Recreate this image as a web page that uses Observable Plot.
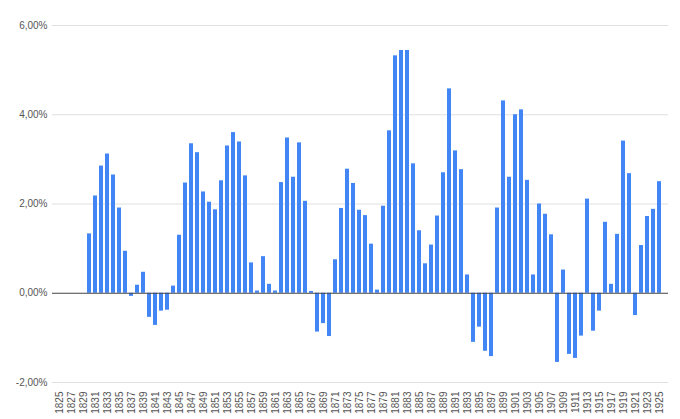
<!DOCTYPE html>
<html><head><meta charset="utf-8">
<script src="https://cdn.jsdelivr.net/npm/d3@7"></script>
<script src="https://cdn.jsdelivr.net/npm/@observablehq/plot@0.6"></script>
<style>body{margin:0;background:#fff}</style>
</head><body><div id="chart"></div>
<script>
const years = d3.range(1825, 1926);
const startYear = 1830;
const values = [
  1.33, 2.18, 2.85, 3.12, 2.65, 1.91, 0.94, -0.07, 0.18, 0.47,
  -0.54, -0.72, -0.40, -0.38, 0.16, 1.30, 2.47, 3.35, 3.15, 2.27,
  2.04, 1.87, 2.52, 3.30, 3.60, 3.39, 2.63, 0.68, 0.05, 0.82,
  0.20, 0.05, 2.48, 3.48, 2.60, 3.37, 2.06, 0.04, -0.87, -0.68,
  -0.97, 0.75, 1.90, 2.78, 2.46, 1.86, 1.74, 1.10, 0.07, 1.95,
  3.64, 5.32, 5.44, 5.44, 2.90, 1.40, 0.66, 1.08, 1.73, 2.70,
  4.58, 3.19, 2.77, 0.41, -1.10, -0.76, -1.30, -1.42, 1.91, 4.31,
  2.60, 4.00, 4.11, 2.53, 0.41, 2.00, 1.77, 1.31, -1.55, 0.52,
  -1.37, -1.46, -0.96, 2.11, -0.85, -0.40, 1.59, 0.20, 1.32, 3.41,
  2.68, -0.50, 1.07, 1.72, 1.88, 2.50
];
const yTicks = [-2, 0, 2, 4, 6];
const xTickLabels = years.filter(y => y % 2 === 1);

const data = values.map((v, i) => ({year: startYear + i, value: v}));
const fmt = d => d.toFixed(2).replace(".", ",") + "%";

const chart = Plot.plot({
  width: 680, height: 419,
  marginTop: 25, marginBottom: 37, marginLeft: 52, marginRight: 12,
  style: {fontFamily: "'Liberation Sans', Arial, sans-serif", fontSize: "10px", color: "#555", background: "#fff"},
  x: {type: "band", domain: years, range: [52.5, 665], paddingInner: 0.33, paddingOuter: 0, label: null},
  y: {domain: [-2, 6], label: null},
  marks: [
    Plot.ruleY(yTicks.filter(t => t !== 0), {stroke: "#e0e0e0"}),
    Plot.axisY({ticks: yTicks, tickFormat: fmt, tickSize: 0, tickPadding: 5, label: null}),
    Plot.axisX({ticks: xTickLabels, tickFormat: d => String(d), tickRotate: -90, tickSize: 0, tickPadding: 9, label: null}),
    Plot.barY(data, {x: "year", y: "value", fill: "#4285f4"}),
    Plot.ruleY([0], {stroke: "#444"})
  ]
});
document.getElementById("chart").appendChild(chart);
</script>
</body></html>
